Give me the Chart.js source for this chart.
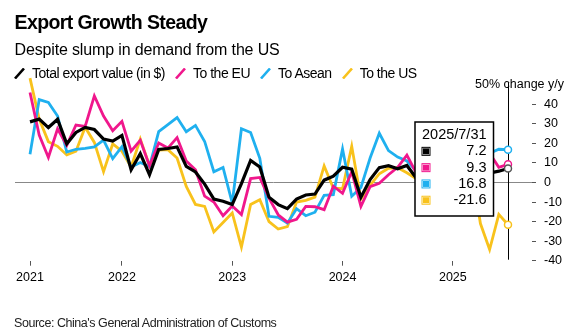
<!DOCTYPE html>
<html>
<head>
<meta charset="utf-8">
<script src="https://cdn.jsdelivr.net/npm/chart.js@4.4.1/dist/chart.umd.min.js"></script>
<style>
  html,body{margin:0;padding:0;background:#fff;}
  body{width:578px;height:336px;position:relative;overflow:hidden;font-family:'Liberation Sans',Arial,sans-serif;color:#000;}
  #chart{position:absolute;left:0;top:0;}
  .txt{position:absolute;left:14.5px;white-space:nowrap;}
  #title{top:13px;font-size:19.5px;line-height:19.5px;font-weight:bold;letter-spacing:-0.6px;}
  #subtitle{top:41.7px;font-size:16px;line-height:16px;letter-spacing:-0.15px;}
  #legend{top:65px;left:14px;height:16px;display:flex;align-items:center;font-size:14px;letter-spacing:-0.5px;}
  #legend .item{display:flex;align-items:center;margin-right:10px;}
  #legend svg{margin-right:7px;}
  #legend span{line-height:16px;}
  #source{top:317px;left:14px;font-size:12.5px;line-height:12.5px;letter-spacing:-0.45px;color:#222;}
</style>
</head>
<body>
<canvas id="chart" width="578" height="336"></canvas>
<div class="txt" id="title">Export Growth Steady</div>
<div class="txt" id="subtitle">Despite slump in demand from the US</div>
<div class="txt" id="legend"></div>
<div class="txt" id="source">Source: China's General Administration of Customs</div>
<script>
// monthly y/y change, Mar 2021 .. Jul 2025
const seriesNames = ['Total export value (in $)', 'To the EU', 'To Asean', 'To the US'];
const seriesColors = ['#000000', '#f0178c', '#1fb0ef', '#f8c21c'];

const totalExports = [31, 32.4, 28.1, 32.3, 19.8, 25.6, 28.2, 27.1, 22.2, 21.2,
  24.1, 6.5, 14.8, 4.0, 16.9, 17.4, 18.2, 8.2, 5.4, -0.8,
  -8.5, -9.6, -11.3, -0.6, 11.3, 7.9, -7.5, -11.3, -13.4, -8.5,
  -6.4, -5.9, 1.2, 3.2, 7.8, 6.8, -7.5, 1.5, 7.6, 8.6,
  7.0, 8.7, 2.4, 12.7, 6.7, 10.7, 2.3, 2.3, 12.4, 8.1,
  4.8, 5.8, 7.2];
const toEU = [46, 24.3, 12.8, 27.5, 19, 29.4, 28.7, 44.3, 34, 26.5,
  31.3, 16, 21.6, 8.5, 20.2, 17.6, 23, 11, 6.5, -7,
  -10, -17, -12, -16.4, 2, 2.6, -8, -16.5, -20.3, -18.8,
  -12.2, -12.4, -13.9, -1.9, -5.5, 5.5, -12.2, -2.1, -0.4, 4,
  7.8, 14, 5, 14.6, 7.2, 8.8, 3.1, 3.1, 10.3, 8.3,
  15, 7.8, 9.3];
const toAsean = [14.5, 42.4, 41, 34, 15.6, 17, 17.5, 18.2, 21.7, 12.2,
  18.3, 7.9, 10.2, 8.1, 26, 29.6, 33.2, 26, 29.2, 21,
  5.5, 7.7, -10.5, 27.5, 25.6, 12.4, -17.3, -17.8, -20.8, -13.4,
  -17, -15.2, -6.6, -6.2, 17.2, -7, -2.5, 12.5, 25.2, 16.3,
  13, 11, 6, 15.8, 14.9, 16, 5.7, 5.7, 11.6, 20.8,
  15, 17, 16.8];
const toUS = [53.4, 32.5, 20.9, 18.5, 14.1, 16, 28.3, 20.5, 5.5, 19.8,
  16, 7.9, 22.2, 8.6, 16.6, 16.8, 12.5, -2, -11.2, -12.2,
  -25.3, -20.5, -15.6, -33, -11.2, -8.8, -20, -23.8, -22.6, -10,
  -9.1, -7.5, 8.5, -2.9, -3.2, 18.5, -8.5, -1.5, 4.5, 7.3,
  7.5, 5, 2, 8.1, 8, 15.6, 2.3, 2.3, 9.1, -21,
  -34.3, -16.3, -21.6];

const yearTickIdx = [0, 10, 22, 34, 46];
const yearTickLabels = ['2021', '2022', '2023', '2024', '2025'];
const yTicks = [-40, -30, -20, -10, 0, 10, 20, 30, 40];
const yTopLabel = '50% change y/y';

// month-end dates for the tooltip title
const dates = totalExports.map((_, i) => {
  const d = new Date(2021, 3 + i, 0);
  return d.getFullYear() + '/' + (d.getMonth() + 1) + '/' + d.getDate();
});

const FONT = "'Liberation Sans', Arial, sans-serif";
Chart.defaults.font.family = FONT;
Chart.defaults.color = '#000';

// legend
const legend = document.getElementById('legend');
seriesNames.forEach((name, i) => {
  const item = document.createElement('div');
  item.className = 'item';
  item.innerHTML = `<svg width="11" height="11"><line x1="1" y1="10.5" x2="10" y2="0.5" stroke="${seriesColors[i]}" stroke-width="2.6"/></svg><span>${name}</span>`;
  legend.appendChild(item);
});

Chart.Tooltip.positioners.fixedBox = function(items) {
  if (!items.length) return false;
  const el = items[0].element;
  return { x: el.x - 93, y: this.chart.scales.y.getPixelForValue(31) };
};

const overlay = {
  id: 'overlay',
  beforeDatasetsDraw(chart) {
    const {ctx, chartArea, scales} = chart;
    const act = chart.getActiveElements();
    ctx.save();
    if (act.length) {
      const x = Math.round(act[0].element.x) + 0.5;
      ctx.strokeStyle = '#000';
      ctx.lineWidth = 1;
      ctx.beginPath();
      ctx.moveTo(x, chartArea.top);
      ctx.lineTo(x, chartArea.bottom - 1);
      ctx.stroke();
    }
    // top label of the right axis
    ctx.font = '12.5px ' + FONT;
    ctx.fillStyle = '#000';
    ctx.textAlign = 'right';
    ctx.textBaseline = 'middle';
    ctx.fillText(yTopLabel, chartArea.right + 32, scales.y.getPixelForValue(50));
    ctx.restore();
  }
};

const datasets = [totalExports, toEU, toAsean, toUS].map((vals, i) => ({
  label: seriesNames[i],
  data: vals.map((v, j) => ({x: j, y: v})),
  borderColor: seriesColors[i],
  backgroundColor: seriesColors[i],
  borderWidth: i === 0 ? 3.2 : 2.8,
  pointRadius: 0,
  pointHoverRadius: 3.5,
  pointHoverBorderWidth: 1.5,
  pointHoverBackgroundColor: '#fff',
  pointHoverBorderColor: i === 0 ? '#555' : seriesColors[i],
  tension: 0,
  clip: false
}));

const chart = new Chart(document.getElementById('chart'), {
  type: 'line',
  data: { datasets },
  options: {
    responsive: false,
    animation: false,
    devicePixelRatio: 1,
    events: [],
    layout: { padding: { top: 82.8, left: 15, right: 0, bottom: 45.3 } },
    scales: {
      x: {
        type: 'linear',
        min: -1.632,
        max: 54.611,
        border: { display: false },
        grid: { drawOnChartArea: false, drawTicks: true, tickLength: 5, color: '#555' },
        ticks: {
          autoSkip: false, maxRotation: 0, padding: 4.6,
          font: { size: 12.5 },
          callback: (v, i) => yearTickLabels[i]
        },
        afterBuildTicks: s => { s.ticks = yearTickIdx.map(v => ({value: v})); },
        afterFit: s => { s.height = 30; }
      },
      y: {
        position: 'right',
        min: -40,
        max: 51,
        border: { display: false },
        grid: {
          drawOnChartArea: true,
          drawTicks: true,
          tickLength: 4,
          tickColor: '#555',
          color: c => (c.tick && c.tick.value === 0) ? '#888' : 'rgba(0,0,0,0)'
        },
        ticks: { padding: 8, font: { size: 12.5 }, callback: v => String(v) },
        afterBuildTicks: s => { s.ticks = yTicks.map(v => ({value: v})); },
        afterFit: s => { s.width = 46; }
      }
    },
    plugins: {
      legend: { display: false },
      tooltip: {
        enabled: true,
        mode: 'index',
        intersect: false,
        position: 'fixedBox',
        xAlign: 'left',
        yAlign: 'top',
        caretSize: 0,
        caretPadding: 0,
        cornerRadius: 0,
        animation: false,
        backgroundColor: '#fff',
        borderColor: '#000',
        borderWidth: 1.5,
        titleColor: '#000',
        bodyColor: '#000',
        titleFont: { size: 14.5, weight: 'normal', lineHeight: 1.124 },
        bodyFont: { size: 14.5, lineHeight: 1.124 },
        titleMarginBottom: 0,
        bodySpacing: 0,
        padding: { top: 5, bottom: 7.5, left: 7, right: 7 },
        bodyAlign: 'right',
        displayColors: true,
        boxWidth: 8,
        boxHeight: 8,
        boxPadding: 0,
        callbacks: {
          title: items => dates[items[0].dataIndex],
          label: c => c.formattedValue,
          labelColor: c => ({
            borderColor: seriesColors[c.datasetIndex],
            backgroundColor: seriesColors[c.datasetIndex],
            borderWidth: 1
          })
        }
      }
    }
  },
  plugins: [overlay]
});

// show the last month as in the reference
const last = totalExports.length - 1;
const active = datasets.map((d, i) => ({datasetIndex: i, index: last}));
chart.setActiveElements(active);
chart.tooltip.setActiveElements(active, {x: 0, y: 0});
chart.update();
</script>
</body>
</html>
